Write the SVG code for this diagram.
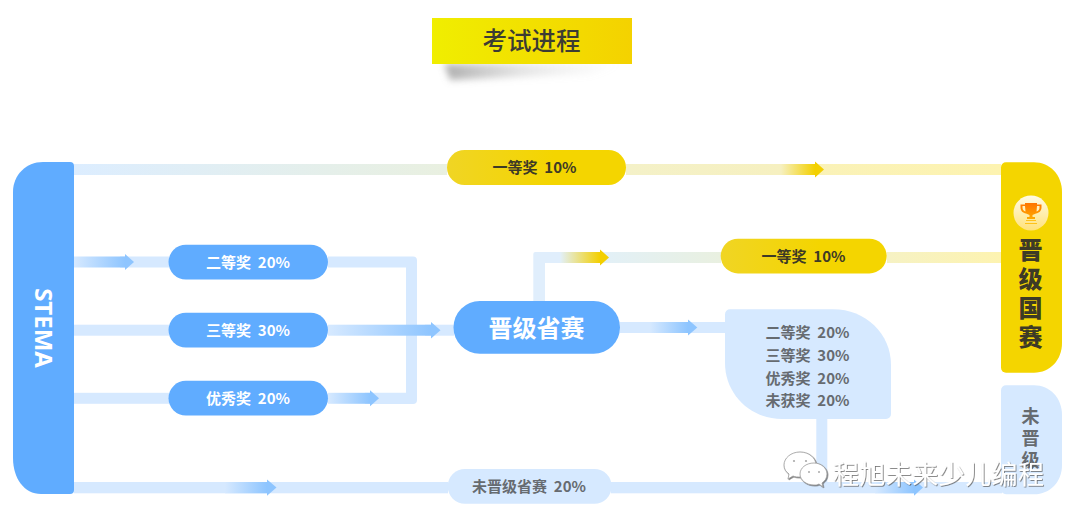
<svg xmlns="http://www.w3.org/2000/svg" width="1080" height="520" viewBox="0 0 1080 520">
<style>
text{font-family:"Noto Sans CJK SC","Noto Sans",sans-serif;font-weight:700;text-anchor:middle;white-space:pre}
.w{fill:#fff;font-size:15px}
.d{fill:#3d3a26;font-size:15px}
.g{fill:#666b70;font-size:15px}
.blue{fill:#60acff}
.pale{fill:#d6e9ff}
.gold{fill:#f4d500}
.ln{fill:#d6e9ff}
.mark{fill:#fff;font-size:26px;font-weight:400;filter:url(#ms)}
.vert{writing-mode:vertical-rl;text-orientation:upright}
</style>
<defs>
<linearGradient id="title" x1="0" x2="1" y1="0" y2="0"><stop offset="0" stop-color="#f0ee00"/><stop offset="1" stop-color="#f4d200"/></linearGradient>
<linearGradient id="pillY" x1="0" x2="1" y1="0" y2="0"><stop offset="0" stop-color="#f0d524"/><stop offset=".6" stop-color="#f4d500"/></linearGradient>
<linearGradient id="shadow" x1="0" x2="1" y1="0" y2="0"><stop offset="0" stop-color="#8a8a8a" stop-opacity=".7"/><stop offset=".45" stop-color="#aaa" stop-opacity=".3"/><stop offset="1" stop-color="#ccc" stop-opacity="0"/></linearGradient>
<linearGradient id="t1" gradientUnits="userSpaceOnUse" x1="74" x2="447" y1="0" y2="0"><stop offset="0" stop-color="#dcedff"/><stop offset="1" stop-color="#e9f0e0"/></linearGradient>
<linearGradient id="t2" gradientUnits="userSpaceOnUse" x1="626" x2="815" y1="0" y2="0"><stop offset="0" stop-color="#f4f1c8"/><stop offset=".82" stop-color="#f6f0c0"/><stop offset="1" stop-color="#f3d000"/></linearGradient>
<linearGradient id="t3" gradientUnits="userSpaceOnUse" x1="815" x2="1001" y1="0" y2="0"><stop offset="0" stop-color="#faf2b8"/><stop offset="1" stop-color="#fdf3b0"/></linearGradient>
<linearGradient id="a1" gradientUnits="userSpaceOnUse" x1="74" x2="125" y1="0" y2="0"><stop offset="0" stop-color="#d6e9ff"/><stop offset="1" stop-color="#8ec5ff"/></linearGradient>
<linearGradient id="a2" gradientUnits="userSpaceOnUse" x1="328" x2="431" y1="0" y2="0"><stop offset="0" stop-color="#d6e9ff"/><stop offset="1" stop-color="#8ec5ff"/></linearGradient>
<linearGradient id="a3" gradientUnits="userSpaceOnUse" x1="328" x2="370" y1="0" y2="0"><stop offset="0" stop-color="#d6e9ff"/><stop offset="1" stop-color="#8ec5ff"/></linearGradient>
<linearGradient id="a4" gradientUnits="userSpaceOnUse" x1="650" x2="688" y1="0" y2="0"><stop offset="0" stop-color="#d6e9ff"/><stop offset="1" stop-color="#8ec5ff"/></linearGradient>
<linearGradient id="a5" gradientUnits="userSpaceOnUse" x1="225" x2="267" y1="0" y2="0"><stop offset="0" stop-color="#d6e9ff"/><stop offset="1" stop-color="#8ec5ff"/></linearGradient>
<linearGradient id="a6" gradientUnits="userSpaceOnUse" x1="875" x2="914" y1="0" y2="0"><stop offset="0" stop-color="#d6e9ff"/><stop offset="1" stop-color="#8ec5ff"/></linearGradient>
<linearGradient id="y1" gradientUnits="userSpaceOnUse" x1="560" x2="600" y1="0" y2="0"><stop offset="0" stop-color="#e2f0fb"/><stop offset="1" stop-color="#f3cf00"/></linearGradient>
<linearGradient id="y2" gradientUnits="userSpaceOnUse" x1="600" x2="721" y1="0" y2="0"><stop offset="0" stop-color="#e2f0f8"/><stop offset="1" stop-color="#e9f0e0"/></linearGradient>
<linearGradient id="y3" gradientUnits="userSpaceOnUse" x1="887" x2="1001" y1="0" y2="0"><stop offset="0" stop-color="#f6f2c4"/><stop offset="1" stop-color="#fdf3b0"/></linearGradient>
<linearGradient id="cup" x1="0" x2="0" y1="0" y2="1"><stop offset="0" stop-color="#ff7400"/><stop offset="1" stop-color="#ffab00"/></linearGradient>
<linearGradient id="disc" x1="0" x2="0" y1="0" y2="1"><stop offset="0" stop-color="#fffbe6"/><stop offset="1" stop-color="#ffe27a"/></linearGradient>
<filter id="blur" x="-20%" y="-100%" width="140%" height="300%"><feGaussianBlur stdDeviation="3.500"/></filter>
<filter id="ms" x="-10%" y="-20%" width="120%" height="140%"><feDropShadow dx="0.800" dy="0.800" stdDeviation="0.500" flood-color="#555" flood-opacity=".85"/></filter>
</defs>

<g id="connectors">
<rect x="74" y="164" width="373" height="11" fill="url(#t1)"/>
<rect x="815" y="164" width="186" height="11" fill="url(#t3)"/>
<rect x="626" y="164" width="189" height="11" fill="url(#t2)"/>
<path d="M815 161.500L824 169.500L815 177.500Z" fill="#f3d000"/>

<rect x="120" y="256.500" width="49" height="11" class="ln"/>
<rect x="74" y="256.500" width="51" height="11" fill="url(#a1)"/>
<path d="M125 254L134 262L125 270Z" fill="#8ec5ff"/>
<path d="M328 256.500H413a4 4 0 0 1 4 4V400a4 4 0 0 1-4 4H365V392.800H406V267.500H328Z" class="ln"/>

<rect x="74" y="324.700" width="95" height="11" class="ln"/>
<rect x="74" y="392.800" width="95" height="11" class="ln"/>
<rect x="425" y="324.700" width="29" height="11" class="ln"/>
<rect x="328" y="324.700" width="103" height="11" fill="url(#a2)"/>
<path d="M431 322L440.500 330.200L431 338.500Z" fill="#8ec5ff"/>
<rect x="328" y="392.800" width="42" height="11" fill="url(#a3)"/>
<path d="M370 390.300L379 398.300L370 406.300Z" fill="#8ec5ff"/>

<path d="M533.300 302V254a2 2 0 0 1 2-2H560V263H545V302Z" fill="#e0eefc"/>
<rect x="600" y="252" width="121" height="11" fill="url(#y2)"/>
<rect x="560" y="252" width="40" height="11" fill="url(#y1)"/>
<path d="M600 249.500L609 257.500L600 265.500Z" fill="#f3cf00"/>
<rect x="887" y="252" width="114" height="11" fill="url(#y3)"/>

<rect x="620" y="322" width="106" height="11" class="ln"/>
<rect x="650" y="322" width="38" height="11" fill="url(#a4)"/>
<path d="M688 319.500L697.300 327.500L688 335.500Z" fill="#8ec5ff"/>

<rect x="816.300" y="418" width="11" height="70" class="ln"/>

<rect x="74" y="482" width="374" height="11.300" class="ln"/>
<rect x="225" y="482" width="42" height="11.300" fill="url(#a5)"/>
<path d="M267 479.500L276.500 487.600L267 495.700Z" fill="#8ec5ff"/>
<rect x="611" y="482" width="391" height="11.300" class="ln"/>
<rect x="875" y="482" width="39" height="11.300" fill="url(#a6)"/>
<path d="M914 479.500L923 487.600L914 495.700Z" fill="#8ec5ff"/>
</g>

<g id="title-node">
<path d="M444 64H622L590 74L450 80Z" fill="url(#shadow)" filter="url(#blur)"/>
<rect x="432" y="18" width="200" height="46" fill="url(#title)"/>
<text x="531.500" y="49.500" style="font-size:24.500px;font-weight:500;fill:#3c3c34">考试进程</text>
</g>

<g id="stema">
<path d="M43 162H70a4 4 0 0 1 4 4V490a4 4 0 0 1-4 4H41C24 494 13 478 13 458V192C13 175 26 162 43 162Z" class="blue"/>
<text transform="translate(34.500 328) rotate(90)" style="font-size:24px;fill:#fff;font-family:'Noto Sans',sans-serif">STEMA</text>
</g>

<g id="pill-first-top">
<rect x="447" y="150" width="179" height="35" rx="17.500" fill="url(#pillY)"/>
<text x="534.500" y="173" class="d">一等奖  10%</text>
</g>
<g id="pill-second">
<rect x="168.500" y="244.700" width="159.500" height="34.800" rx="17.400" class="blue"/>
<text x="248" y="267.500" class="w">二等奖  20%</text>
</g>
<g id="pill-third">
<rect x="168.500" y="312.700" width="159.500" height="34.800" rx="17.400" class="blue"/>
<text x="248" y="335.500" class="w">三等奖  30%</text>
</g>
<g id="pill-merit">
<rect x="168.500" y="380.800" width="159.500" height="34.800" rx="17.400" class="blue"/>
<text x="248" y="403.500" class="w">优秀奖  20%</text>
</g>
<g id="provincial">
<rect x="453.500" y="301" width="166.500" height="52.700" rx="26.300" class="blue"/>
<text x="536.500" y="337" style="font-size:24px;fill:#fff">晋级省赛</text>
</g>
<g id="pill-first-prov">
<rect x="720.700" y="238.700" width="166" height="34.700" rx="17.300" fill="url(#pillY)"/>
<text x="803.500" y="261.500" class="d">一等奖  10%</text>
</g>
<g id="results">
<path d="M730 309.300H833C866 309.300 891 334 891 365V414a5 5 0 0 1-5 5H782C750 419 725 394 725 363V314.300a5 5 0 0 1 5-5Z" class="pale"/>
<text x="807.500" y="338" class="g">二等奖  20%</text>
<text x="807.500" y="361" class="g">三等奖  30%</text>
<text x="807.500" y="384" class="g">优秀奖  20%</text>
<text x="807.500" y="406" class="g">未获奖  20%</text>
</g>
<g id="national">
<path d="M1006 162.300H1034C1050 162.300 1062 175 1062 192V343C1062 360 1050 372.700 1034 372.700H1006a5 5 0 0 1-5-5V167.300a5 5 0 0 1 5-5Z" class="gold"/>
<circle cx="1031" cy="213" r="17.500" fill="url(#disc)"/>
<path d="M1025 203H1037V204.500H1041.500V207.500C1041.500 211 1039 213 1036 213.500L1032.500 215V217H1035V219H1027V217H1029.500V215L1026 213.500C1023 213 1020.500 211 1020.500 207.500V204.500H1025ZM1022.500 206V207.500C1022.500 209.500 1023.500 211 1025.500 211.500L1025 206ZM1039.500 206H1037L1036.500 211.500C1038.500 211 1039.500 209.500 1039.500 207.500Z" fill="url(#cup)"/>
<path d="M1026 220H1036V221H1026ZM1025 223H1037V224H1025Z" fill="#ffc21a"/>
<text x="1030.500" y="296" class="vert" style="font-size:24px;letter-spacing:5px;fill:#3d3a26;font-weight:900">晋级国赛</text>
</g>
<g id="fail-bottom">
<rect x="447.700" y="469" width="164" height="34.700" rx="17.300" class="pale"/>
<text x="529" y="492" class="g">未晋级省赛  20%</text>
</g>
<g id="fail">
<path d="M1006 385.300H1034C1050 385.300 1062 398 1062 415V465C1062 482 1050 494.300 1034 494.300H1006a5 5 0 0 1-5-5V390.300a5 5 0 0 1 5-5Z" class="pale"/>
<text x="1030.500" y="440" class="vert" style="font-size:18px;letter-spacing:4px;fill:#666b70">未晋级</text>
</g>

<g id="watermark">
<g fill="#fff" stroke="#9a9a9a" stroke-width=".8" filter="url(#ms)">
<path d="M800 452C791 452 784 458 784 465C784 469 786 472 789 474L788 479L793 476C795 477 798 477 800 477C809 477 816 472 816 465C816 458 809 452 800 452Z"/>
<path d="M814 463C806 463 800 468 800 474C800 480 806 485 814 485C816 485 817 485 819 484L823 487L822 483C825 481 827 478 827 474C827 468 821 463 814 463Z"/>
</g>
<g fill="#aaa"><circle cx="794" cy="461" r="1.100"/><circle cx="806" cy="461" r="1.100"/><circle cx="809" cy="472" r="1"/><circle cx="819" cy="472" r="1"/></g>
<text x="938.500" y="484" class="mark" textLength="211">程旭未来少儿编程</text>
</g>
</svg>
